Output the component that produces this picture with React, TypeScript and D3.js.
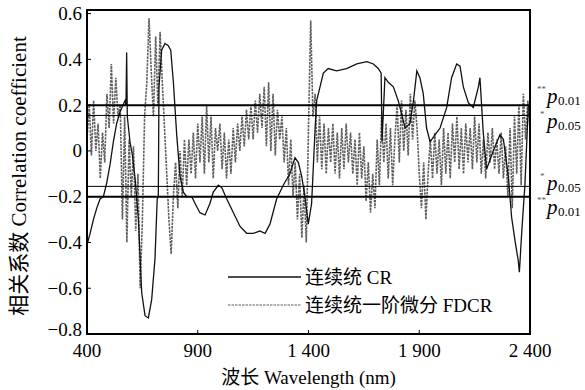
import React from "react";
import * as d3 from "d3";

// CR curve (wavelength nm, correlation)
const crWavelengths = [
  400, 414, 429, 444, 459, 474, 489, 504, 519, 534, 549, 562, 572, 576, 579, 582, 594, 605, 617, 632, 639,
  647, 662, 677, 692, 707, 717, 722, 725, 737, 752, 767, 778, 790, 805, 820, 835, 850, 873, 888, 910,
  933, 955, 970, 993, 1008, 1031, 1061, 1091, 1121, 1151, 1180, 1204, 1226, 1256, 1286, 1316, 1339,
  1354, 1369, 1384, 1399, 1414, 1430, 1437, 1452, 1467, 1489, 1527, 1572, 1618, 1663, 1693, 1715, 1728,
  1732, 1745, 1760, 1783, 1805, 1821, 1836, 1858, 1874, 1889, 1903, 1918, 1933, 1949, 1971, 1994, 2024,
  2046, 2069, 2084, 2099, 2122, 2144, 2167, 2174, 2189, 2204, 2234, 2264, 2280, 2302, 2317, 2332, 2347,
  2352, 2363, 2377, 2392, 2400,
];
const crValues = [
  -0.41, -0.36, -0.3, -0.25, -0.21, -0.2, -0.14, -0.06, 0.04, 0.12, 0.17, 0.2, 0.22, 0.2, 0.43, 0.15,
  0.04, -0.02, -0.12, -0.3, -0.45, -0.62, -0.72, -0.73, -0.65, -0.47, -0.21, -0.2, 0.28, 0.44, 0.47, 0.46,
  0.44, 0.3, 0.07, -0.11, -0.18, -0.2, -0.2, -0.23, -0.27, -0.28, -0.23, -0.18, -0.15, -0.16, -0.21,
  -0.27, -0.33, -0.36, -0.36, -0.35, -0.36, -0.32, -0.21, -0.15, -0.1, -0.03, -0.05, -0.11, -0.2, -0.32,
  -0.23, 0.1, 0.22, 0.28, 0.34, 0.36, 0.35, 0.36, 0.38, 0.39, 0.38, 0.36, 0.34, 0.04, 0.32, 0.3, 0.28,
  0.22, 0.16, 0.1, 0.12, 0.22, 0.35, 0.32, 0.25, 0.1, 0.04, 0.07, 0.1, 0.19, 0.32, 0.38, 0.37, 0.28, 0.21,
  0.19, 0.28, 0.32, 0.08, -0.08, 0.0, 0.07, 0.05, -0.11, -0.29, -0.39, -0.48, -0.53, -0.35, -0.15, 0.19,
  0.2,
];

// FDCR, one reading every 10 nm from 400 to 2400
const fdcrWavelengths = d3.range(400, 2401, 10);
const fdcrValues = [
  0.05, 0.2, -0.02, 0.22, 0.0, 0.12, -0.12, 0.08, -0.05, 0.25,
  0.1, 0.38, 0.12, 0.32, 0.15, 0.2, -0.3, 0.15, -0.4, 0.05,
  -0.2, 0.02, -0.35, -0.1, -0.6, -0.3, 0.15, 0.3, 0.58, 0.35,
  0.15, 0.5, 0.2, 0.52, 0.3, 0.1, -0.1, -0.3, -0.45, -0.2,
  -0.05, -0.25, 0.0, -0.2, 0.05, -0.15, 0.05, -0.1, 0.08, -0.12,
  0.12, -0.05, 0.15, -0.1, 0.2, -0.05, 0.15, -0.12, 0.1, 0.0,
  0.12, -0.08, 0.08, -0.12, 0.05, -0.1, 0.1, -0.05, 0.12, 0.0,
  0.15, 0.02, 0.18, 0.05, 0.2, 0.05, 0.22, 0.08, 0.25, 0.1,
  0.28, 0.02, 0.3, 0.0, 0.25, -0.02, 0.18, 0.05, 0.15, -0.05,
  0.1, -0.15, 0.05, -0.2, -0.05, -0.3, -0.1, -0.38, -0.15, -0.4,
  0.1, 0.57, 0.15, 0.25, -0.05, 0.15, -0.08, 0.12, -0.1, 0.1,
  -0.05, 0.12, -0.1, 0.08, -0.12, 0.1, -0.08, 0.12, -0.05, 0.08,
  -0.1, 0.05, -0.15, 0.08, -0.12, 0.02, -0.22, -0.05, -0.27, -0.1,
  -0.25, 0.05, -0.15, 0.15, -0.05, 0.12, -0.12, 0.1, -0.15, 0.05,
  0.2, -0.05, 0.22, 0.0, 0.18, -0.02, 0.25, 0.05, 0.22, 0.1,
  -0.1, -0.25, -0.05, -0.3, -0.1, 0.05, -0.12, 0.08, -0.1, 0.05,
  -0.15, 0.1, -0.1, 0.08, -0.12, 0.12, -0.05, 0.15, -0.08, 0.1,
  -0.1, 0.12, -0.05, 0.1, -0.08, 0.15, -0.05, 0.12, -0.1, 0.05,
  -0.12, 0.08, -0.05, 0.1, -0.08, 0.05, -0.1, 0.08, -0.12, 0.02,
  -0.2, 0.1, -0.25, 0.15, -0.1, 0.2, -0.15, 0.25, 0.05, 0.22,
  0.1,
];

const xTicks = [400, 900, 1400, 1900, 2400];
const xTickLabels = ["400", "900", "1 400", "1 900", "2 400"];
const yTicks = [0.6, 0.4, 0.2, 0, -0.2, -0.4, -0.6, -0.8];
const yTickLabels = ["0.6", "0.4", "0.2", "0", "\u22120.2", "\u22120.4", "\u22120.6", "\u22120.8"];

// significance thresholds
const p01 = 0.2;
const p05 = 0.155;

const font = { fontFamily: '"Liberation Serif", "Noto Sans CJK SC"' };

export default function App() {
  const width = 585;
  const height = 390;
  const left = 87;
  const right = 530;
  const top = 10;
  const bottom = 334;

  const x = d3.scaleLinear().domain([400, 2400]).range([left, right]);
  const y = d3.scaleLinear().domain([-0.8, 0.6]).range([bottom, 13.6]);

  const line = d3
    .line<[number, number]>()
    .x((d) => x(d[0]))
    .y((d) => y(d[1]));

  const crPath = line(crWavelengths.map((w, i) => [w, crValues[i]]));
  const fdcrPath = line(fdcrWavelengths.map((w, i) => [w, fdcrValues[i]]));

  const pLabels = [
    { v: p01, stars: "**", sub: "0.01", dy: -2 },
    { v: p05, stars: "*", sub: "0.05", dy: 13 },
    { v: -p05, stars: "*", sub: "0.05", dy: 4 },
    { v: -p01, stars: "**", sub: "0.01", dy: 17 },
  ];

  return (
    <svg width={width} height={height} style={{ position: "absolute", left: 0, top: 0, background: "#fff" }}>
      <defs>
        <clipPath id="plot">
          <rect x={left} y={top} width={right - left} height={bottom - top} />
        </clipPath>
      </defs>

      <g clipPath="url(#plot)">
        <path d={fdcrPath ?? ""} fill="none" stroke="#5f5f5f" strokeWidth={1.6} strokeDasharray="2.5,1" />
        <path d={crPath ?? ""} fill="none" stroke="#111" strokeWidth={1.3} />
      </g>

      {/* threshold lines */}
      {[p01, -p01].map((v) => (
        <line key={"a" + v} x1={left} x2={right} y1={y(v)} y2={y(v)} stroke="#000" strokeWidth={2} />
      ))}
      {[p05, -p05].map((v) => (
        <line key={"b" + v} x1={left} x2={right} y1={y(v)} y2={y(v)} stroke="#000" strokeWidth={1} />
      ))}

      {/* frame */}
      <rect x={left} y={top} width={right - left} height={bottom - top} fill="none" stroke="#000" strokeWidth={2} />

      {/* y ticks */}
      {yTicks.map((t, i) => (
        <g key={t}>
          <line x1={left} x2={left + 4} y1={y(t)} y2={y(t)} stroke="#000" strokeWidth={1} />
          <text
            x={left - 5}
            y={t === -0.8 ? y(t) - 5 : y(t)}
            textAnchor="end"
            dominantBaseline="central"
            fontSize={19}
            style={font}
          >
            {yTickLabels[i]}
          </text>
        </g>
      ))}

      {/* x ticks */}
      {xTicks.map((t, i) => (
        <g key={t}>
          <line x1={x(t)} x2={x(t)} y1={bottom} y2={bottom - 4} stroke="#000" strokeWidth={1} />
          <text x={x(t)} y={357} textAnchor="middle" fontSize={19} style={font}>
            {xTickLabels[i]}
          </text>
        </g>
      ))}

      <text x={(left + right) / 2} y={384} textAnchor="middle" fontSize={19} style={font}>
        波长 Wavelength (nm)
      </text>
      <text
        transform={`translate(26,${(top + bottom) / 2 + 4}) rotate(-90)`}
        textAnchor="middle"
        fontSize={21}
        style={font}
      >
        相关系数 Correlation coefficient
      </text>

      {/* legend */}
      <line x1={228} x2={301} y1={277} y2={277} stroke="#111" strokeWidth={1.3} />
      <text x={305} y={284} fontSize={19} style={font}>
        连续统 CR
      </text>
      <line x1={228} x2={301} y1={305} y2={305} stroke="#5f5f5f" strokeWidth={1.2} strokeDasharray="2.5,1" />
      <text x={305} y={312} fontSize={19} style={font}>
        连续统一阶微分 FDCR
      </text>

      {/* significance labels */}
      {pLabels.map((p, i) => (
        <g key={i} transform={`translate(537,${y(p.v) + p.dy})`}>
          <text x={p.stars === "*" ? 3 : 0} y={-11} fontSize={9} fill="#555" style={font}>
            {p.stars}
          </text>
          <text x={10} y={0} fontSize={21} fontStyle="italic" style={font}>
            p
          </text>
          <text x={21} y={2} fontSize={13} style={font}>
            {p.sub}
          </text>
        </g>
      ))}
    </svg>
  );
}
